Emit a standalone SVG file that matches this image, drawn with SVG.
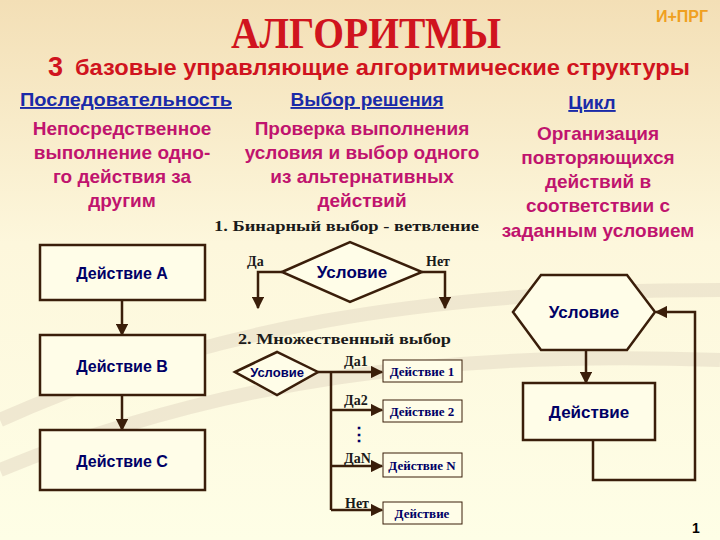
<svg xmlns="http://www.w3.org/2000/svg" width="720" height="540" viewBox="0 0 720 540">
<defs>
<linearGradient id="bg" x1="0" y1="0" x2="0" y2="1"><stop offset="0" stop-color="#f3dfb6"/><stop offset="0.45" stop-color="#fdf7dc"/><stop offset="1" stop-color="#fefee6"/></linearGradient>
<marker id="ar" viewBox="0 0 10 10" refX="9" refY="5" markerWidth="5" markerHeight="5" orient="auto"><path d="M0,0L10,5L0,10z" fill="#3a1e0a"/></marker>
<style>
.s{fill:#fffde8;stroke:#3a1e0a;stroke-width:2.5}
.t{fill:#fffde8;stroke:#3a1e0a;stroke-width:1}
.c{fill:none;stroke:#3a1e0a;stroke-width:2.5;marker-end:url(#ar)}
.n{fill:none;stroke:#3a1e0a;stroke-width:2.5}
.a{font-family:"Liberation Sans",Arial,sans-serif;font-weight:bold;fill:#000066;text-anchor:middle}
.m{font-family:"Liberation Sans",Arial,sans-serif;font-weight:bold;fill:#c0146e;font-size:19px;text-anchor:middle}
.h{font-family:"Liberation Sans",Arial,sans-serif;font-weight:bold;fill:#1a2aa8;font-size:19px;text-anchor:middle;text-decoration:underline}
.r{font-family:"Liberation Serif",serif;font-weight:bold;fill:#1a1a1a;font-size:14px}
.rs{font-family:"Liberation Serif",serif;font-weight:bold;fill:#000066;font-size:13px;text-anchor:middle}
</style>
</defs>
<rect width="720" height="540" fill="url(#bg)"/>
<path d="M0,420 C200,330 420,290 720,290" stroke="#e6dcc6" stroke-width="14" fill="none" opacity="0.6"/>
<path d="M0,470 C220,380 440,350 720,360" stroke="#e6dcc6" stroke-width="14" fill="none" opacity="0.6"/>
<text x="231" y="48" font-family="Liberation Serif,serif" font-weight="bold" font-size="44" fill="#d0141e" textLength="270" lengthAdjust="spacingAndGlyphs">АЛГОРИТМЫ</text>
<text x="682" y="22" font-family="Liberation Sans,sans-serif" font-weight="bold" font-size="16" fill="#f0a020" text-anchor="middle">И+ПРГ</text>
<text x="48" y="76" font-family="Liberation Sans,sans-serif" font-weight="bold" font-size="27" fill="#d0141e">3</text>
<text x="75" y="75" font-family="Liberation Sans,sans-serif" font-weight="bold" font-size="22" fill="#d0141e" textLength="615" lengthAdjust="spacingAndGlyphs">базовые управляющие алгоритмические структуры</text>
<text class="h" x="126" y="106" textLength="212" lengthAdjust="spacingAndGlyphs">Последовательность</text>
<text class="h" x="367" y="106">Выбор решения</text>
<text class="h" x="592" y="109">Цикл</text>
<g class="m"><text x="122" y="135">Непосредственное</text><text x="122" y="159">выполнение одно-</text><text x="122" y="183">го действия за</text><text x="122" y="207">другим</text>
<text x="362" y="135">Проверка выполнения</text><text x="362" y="159">условия и выбор одного</text><text x="362" y="183">из альтернативных</text><text x="362" y="207">действий</text>
<text x="598" y="140">Организация</text><text x="598" y="164">повторяющихся</text><text x="598" y="188">действий в</text><text x="598" y="212">соответствии с</text><text x="598" y="237">заданным условием</text></g>
<text class="r" x="214" y="231" font-size="16" textLength="265" lengthAdjust="spacingAndGlyphs">1. Бинарный выбор - ветвление</text>
<text class="r" x="238" y="344" font-size="16" textLength="213" lengthAdjust="spacingAndGlyphs">2. Множественный выбор</text>
<g id="connectors">
<path class="c" d="M122,300V335"/><path class="c" d="M122,395V430"/>
<path class="c" d="M282,272H258V308"/><path class="c" d="M422,272H445V308"/>
<path class="c" d="M318,372H382"/><path class="n" d="M331,372V510"/>
<path class="c" d="M331,410H382"/><path class="c" d="M331,466H382"/><path class="c" d="M331,510H382"/>
<path class="c" d="M586,350V383"/>
<path class="c" d="M593,440V480H695V312H656"/>
</g>
<g id="seq"><rect class="s" x="40" y="245" width="165" height="55"/><text class="a" x="122" y="279" font-size="16">Действие А</text></g>
<g id="seqB"><rect class="s" x="40" y="335" width="165" height="60"/><text class="a" x="122" y="372" font-size="16">Действие В</text></g>
<g id="seqC"><rect class="s" x="40" y="430" width="165" height="60"/><text class="a" x="122" y="467" font-size="16">Действие С</text></g>
<g id="bin"><path class="s" d="M282,272L350,242L422,272L350,302z"/><text class="a" x="352" y="278" font-size="17">Условие</text>
<text class="r" x="247" y="266" font-size="16">Да</text><text class="r" x="426" y="266" font-size="16">Нет</text></g>
<g id="multi"><path class="s" d="M235,372L277,352L318,372L277,395z"/><text class="a" x="277" y="377" font-size="13">Условие</text>
<text class="r" x="344" y="366">Да1</text><text class="r" x="344" y="405">Да2</text><text class="r" x="344" y="463">ДаN</text><text class="r" x="345" y="508">Нет</text>
<text x="359" y="440" font-family="Liberation Sans,sans-serif" font-weight="bold" font-size="18" fill="#000066" text-anchor="middle">⋮</text>
<rect class="t" x="383" y="360" width="79" height="22"/><text class="rs" x="422" y="376">Действие 1</text>
<rect class="t" x="383" y="400" width="79" height="22"/><text class="rs" x="422" y="416">Действие 2</text>
<rect class="t" x="383" y="453" width="79" height="24"/><text class="rs" x="422" y="470">Действие N</text>
<rect class="t" x="383" y="502" width="79" height="22"/><text class="rs" x="422" y="518">Действие</text></g>
<g id="loop"><path class="s" d="M513,312L541,275H627L655,312L627,350H541z"/><text class="a" x="584" y="318" font-size="17">Условие</text>
<rect class="s" x="523" y="383" width="132" height="57"/><text class="a" x="589" y="418" font-size="17">Действие</text></g>
<text x="696" y="533" font-family="Liberation Sans,sans-serif" font-weight="bold" font-size="14" fill="#000" text-anchor="middle">1</text>
</svg>
